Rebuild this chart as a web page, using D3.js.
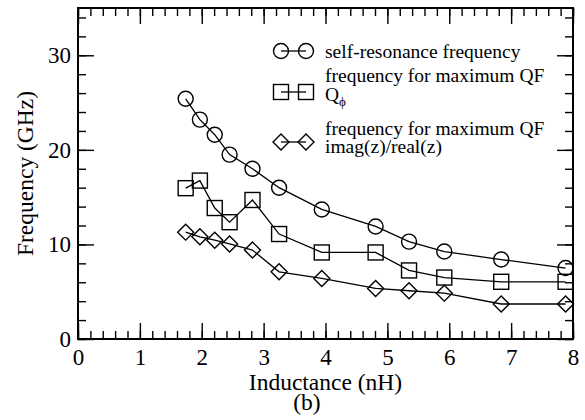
<!DOCTYPE html>
<html>
<head>
<meta charset="utf-8">
<script src="https://cdn.jsdelivr.net/npm/d3@7/dist/d3.min.js"></script>
<style>
  html, body { margin: 0; padding: 0; background: #fff; }
  svg { display: block; font-family: "Liberation Serif", "Times New Roman", serif; }
</style>
</head>
<body>
<svg id="chart" width="585" height="420"></svg>
<script>
// Inductance values (nH) shared by all three series
const inductance = [1.74, 1.97, 2.21, 2.45, 2.82, 3.25, 3.94, 4.81, 5.35, 5.92, 6.84, 7.88];
// Frequencies (GHz)
const selfResonance = [25.4, 23.2, 21.6, 19.5, 18.0, 16.0, 13.7, 11.9, 10.3, 9.25, 8.4, 7.5];
const maxQPhi      = [15.95, 16.75, 13.85, 12.35, 14.7, 11.1, 9.15, 9.15, 7.25, 6.5, 6.05, 6.05];
const maxQRatio    = [11.3, 10.8, 10.45, 10.05, 9.4, 7.1, 6.4, 5.35, 5.1, 4.85, 3.7, 3.7];

const xTicks = [0, 1, 2, 3, 4, 5, 6, 7, 8];
const yTicks = [0, 10, 20, 30];

const seriesNames = ["self-resonance", "qphi", "qratio"];

const svg = d3.select("#chart");
const plotLeft = 78, plotRight = 573, plotTop = 8, plotBottom = 339;

const x = d3.scaleLinear().domain([0, 8]).range([plotLeft, plotRight]);
const y = d3.scaleLinear().domain([0, 35]).range([plotBottom, plotTop]);

const fontSize = 23;
const majorLen = 16, minorLen = 8;

// marker shapes
function drawMarker(g, kind, cx, cy) {
  const s = 7.5;
  if (kind === "circle") {
    g.append("circle").attr("cx", cx).attr("cy", cy).attr("r", s);
  } else if (kind === "square") {
    g.append("rect").attr("x", cx - s).attr("y", cy - s).attr("width", 2 * s).attr("height", 2 * s);
  } else {
    const d = 8;
    g.append("path").attr("d", `M${cx - d},${cy}L${cx},${cy - d}L${cx + d},${cy}L${cx},${cy + d}Z`);
  }
}

const series = [
  { name: seriesNames[0], values: selfResonance, marker: "circle" },
  { name: seriesNames[1], values: maxQPhi, marker: "square" },
  { name: seriesNames[2], values: maxQRatio, marker: "diamond" }
];

const line = d3.line().x(d => x(d[0])).y(d => y(d[1]));

const plot = svg.append("g");
series.forEach(s => {
  const pts = inductance.map((v, i) => [v, s.values[i]]);
  plot.append("path")
    .attr("d", line(pts))
    .attr("fill", "none")
    .attr("stroke", "#000")
    .attr("stroke-width", 1.3);
  const mg = plot.append("g").attr("fill", "none").attr("stroke", "#000").attr("stroke-width", 1.4);
  pts.forEach(p => drawMarker(mg, s.marker, x(p[0]), y(p[1])));
});

// axes: major and minor ticks on all four sides, pointing inward
const xMinor = d3.range(0, 41).map(i => i * 0.2);
const yMinor = d3.range(0, 18).map(i => i * 2);

function styleAxis(g) {
  g.select(".domain").remove();
  g.selectAll(".tick line").attr("stroke", "#000").attr("stroke-width", 1.4);
  g.selectAll("text").attr("font-size", fontSize).attr("fill", "#000")
    .attr("font-family", "Liberation Serif, Times New Roman, serif");
}

// bottom
svg.append("g").attr("transform", `translate(0,${plotBottom})`)
  .call(d3.axisBottom(x).tickValues(xMinor).tickSize(-minorLen).tickFormat(""))
  .call(styleAxis);
svg.append("g").attr("transform", `translate(0,${plotBottom})`)
  .call(d3.axisBottom(x).tickValues(xTicks).tickSize(-majorLen).tickPadding(10).tickFormat(d3.format("d")))
  .call(styleAxis);
// top
svg.append("g").attr("transform", `translate(0,${plotTop})`)
  .call(d3.axisTop(x).tickValues(xMinor).tickSize(-minorLen).tickFormat(""))
  .call(styleAxis);
svg.append("g").attr("transform", `translate(0,${plotTop})`)
  .call(d3.axisTop(x).tickValues(xTicks).tickSize(-majorLen).tickFormat(""))
  .call(styleAxis);
// left
svg.append("g").attr("transform", `translate(${plotLeft},0)`)
  .call(d3.axisLeft(y).tickValues(yMinor).tickSize(-minorLen).tickFormat(""))
  .call(styleAxis);
svg.append("g").attr("transform", `translate(${plotLeft},0)`)
  .call(d3.axisLeft(y).tickValues(yTicks).tickSize(-majorLen).tickPadding(7).tickFormat(d3.format("d")))
  .call(styleAxis);
// right
svg.append("g").attr("transform", `translate(${plotRight},0)`)
  .call(d3.axisRight(y).tickValues(yMinor).tickSize(-minorLen).tickFormat(""))
  .call(styleAxis);
svg.append("g").attr("transform", `translate(${plotRight},0)`)
  .call(d3.axisRight(y).tickValues(yTicks).tickSize(-majorLen).tickFormat(""))
  .call(styleAxis);

// frame
svg.append("rect")
  .attr("x", plotLeft).attr("y", plotTop)
  .attr("width", plotRight - plotLeft).attr("height", plotBottom - plotTop)
  .attr("fill", "none").attr("stroke", "#000").attr("stroke-width", 2);

// axis titles
svg.append("text")
  .attr("x", (plotLeft + plotRight) / 2).attr("y", 390)
  .attr("text-anchor", "middle").attr("font-size", 23.5)
  .text("Inductance (nH)");
svg.append("text")
  .attr("x", 307).attr("y", 410)
  .attr("text-anchor", "middle").attr("font-size", 23.5)
  .text("(b)");
svg.append("text")
  .attr("transform", `translate(33,${(plotTop + plotBottom) / 2}) rotate(-90)`)
  .attr("text-anchor", "middle").attr("font-size", 23.5)
  .text("Frequency (GHz)");

// legend
const legend = svg.append("g");
const legendRows = [
  { marker: "circle", cy: 51, lines: [{ t: "self-resonance frequency", y: 57.5 }] },
  { marker: "square", cy: 92, lines: [{ t: "frequency for maximum QF", y: 81.5 }, { t: "Q", sub: "ϕ", y: 100.5 }] },
  { marker: "diamond", cy: 142, lines: [{ t: "frequency for maximum QF", y: 134.5 }, { t: "imag(z)/real(z)", y: 153 }] }
];
const lx1 = 281, lx2 = 306, ltx = 325;
legendRows.forEach(r => {
  legend.append("line")
    .attr("x1", lx1).attr("x2", lx2).attr("y1", r.cy).attr("y2", r.cy)
    .attr("stroke", "#000").attr("stroke-width", 1.3);
  const mg = legend.append("g").attr("fill", "none").attr("stroke", "#000").attr("stroke-width", 1.4);
  drawMarker(mg, r.marker, lx1, r.cy);
  drawMarker(mg, r.marker, lx2, r.cy);
  r.lines.forEach(l => {
    const t = legend.append("text").attr("x", ltx).attr("y", l.y).attr("font-size", 19.5).text(l.t);
    if (l.sub) {
      t.append("tspan").attr("dy", 5).attr("font-size", 13).text(l.sub);
    }
  });
});
</script>
</body>
</html>
